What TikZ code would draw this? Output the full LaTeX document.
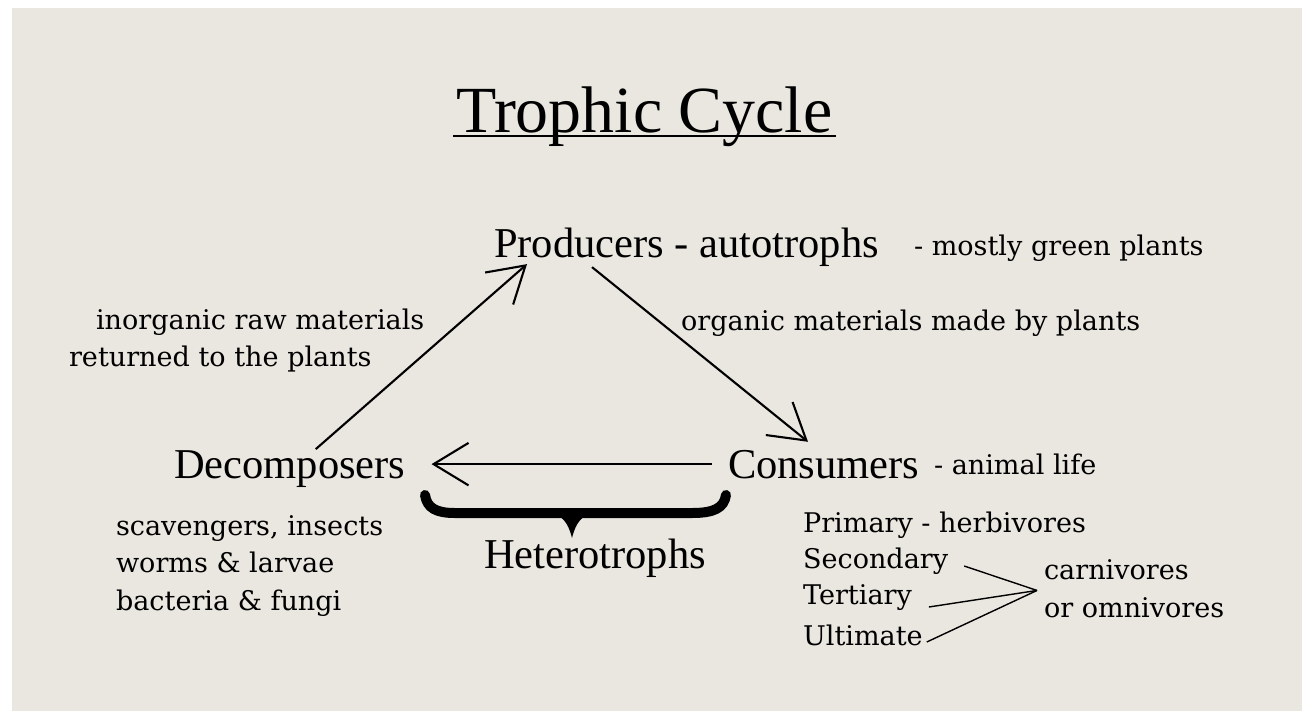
\documentclass[tikz,border=0pt]{standalone}
\usepackage{fontspec}
\setmainfont{Liberation Serif}
\newfontfamily\notefont{DejaVu Serif}
\usetikzlibrary{arrows.meta}
\definecolor{paper}{RGB}{234,231,224}

\begin{document}
\begin{tikzpicture} [x=0.02cm, y=-0.02cm, line width=1.2pt,
        title/.style={inner sep=0pt, anchor=base west, font=\fontsize{37.5}{40}\selectfont},
        head/.style={inner sep=0pt, anchor=base west, font=\fontsize{24.2}{26}\selectfont},
        note/.style={inner sep=0pt, anchor=base west, font=\notefont\fontsize{15.4}{17}\selectfont},
        barb/.style={-{Straight Barb[length=0.7cm, width=0.85cm]}}]
        \useasboundingbox (0, 0) rectangle (1302, 711);
        \fill [white] (0, 0) rectangle (1302, 711);
        \fill [paper] (12, 8) rectangle (1302, 711);
        % title
        \node [title] (title) at (455, 132) {Trophic Cycle};
        \draw [line width=1.1pt] ([shift={(-2, 4)}]title.base west) -- ([shift={(2, 4)}]title.base east);
        % the three groups
        \node [head] (prod) at (493, 257) {Producers - autotrophs};
        \node [head] (dec) at (173, 478) {Decomposers};
        \node [head] (con) at (727, 478) {Consumers};
        \node [head] (het) at (483, 568) {Heterotrophs};
        \node [note] (green) at (913, 255) {- mostly green plants};
        \node [note] (inorg) at (95, 329) {inorganic raw materials};
        \node [note] (ret) at (68, 366) {returned to the plants};
        \node [note] (org) at (680, 330) {organic materials made by plants};
        \node [note] (anim) at (933, 474) {- animal life};
        \node [note] (scav) at (115, 535) {scavengers, insects};
        \node [note] (worm) at (115, 572) {worms \& larvae};
        \node [note] (bact) at (115, 610) {bacteria \& fungi};
        \node [note] (prim) at (802, 532) {Primary - herbivores};
        \node [note] (sec) at (802, 568) {Secondary};
        \node [note] (ter) at (802, 604) {Tertiary};
        \node [note] (ult) at (802, 645) {Ultimate};
        \node [note] (carn) at (1043, 579) {carnivores};
        \node [note] (omni) at (1043, 617) {or omnivores};
        % cycle arrows
        \draw [barb] ([shift={(26, 0)}]dec.north) -- ([shift={(34, -3)}]prod.south west);
        \draw [barb] ([shift={(99, 0)}]prod.south west) -- ([shift={(81, -7)}]con.north west);
        \draw [barb, shorten <=0.3cm, shorten >=0.5cm] (con.west) -- (con.west -| dec.east);
        % brace
        \draw [line width=0.2cm, line cap=round, line join=round]
            (425, 495) .. controls (427, 508) and (436, 513) .. (455, 513) -- (692, 513)
            .. controls (714, 513) and (724, 508) .. (726, 495);
        \fill (546, 512) .. controls (562, 514) and (568, 522) .. (572, 538)
            .. controls (576, 522) and (582, 514) .. (598, 512) -- cycle;
        % consumer levels
        \coordinate (fork) at ([shift={(-6, 10)}]carn.south west);
        \foreach \lvl/\dx/\dy in {sec/15/-2, ter/16/3, ult/3/-3}
        {
            \draw [line width=0.8pt] ([shift={(\dx, \dy)}]\lvl.base east) -- (fork);
        }
    \end{tikzpicture}
\end{document}
